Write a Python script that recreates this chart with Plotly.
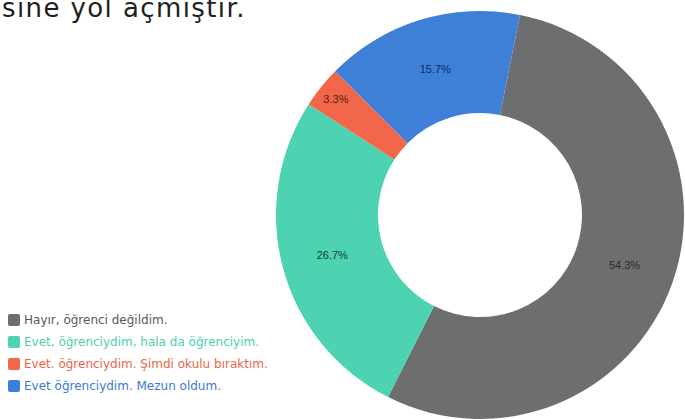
import plotly.graph_objects as go

# Survey answers and their shares (percent)
labels = [
    "Hayır, öğrenci değildim.",
    "Evet, öğrenciydim, hala da öğrenciyim.",
    "Evet. öğrenciydim. Şimdi okulu bıraktım.",
    "Evet öğrenciydim. Mezun oldum.",
]
values = [54.3, 26.7, 3.3, 15.7]
slice_colors = ["#6d6e70", "#4dd3b1", "#f2664a", "#3e80d8"]
label_text_colors = ["#2b2c2e", "#0f3f35", "#5c1a0e", "#10295a"]
legend_text_colors = ["#58595b", "#4ccfae", "#ef6449", "#3b79d4"]

title_tail = "sine yol açmıştır."

W, H = 685, 419

fig = go.Figure(
    go.Pie(
        labels=labels,
        values=values,
        hole=0.5,
        sort=False,
        direction="clockwise",
        rotation=11.3,
        marker=dict(colors=slice_colors, line=dict(width=0)),
        textinfo="percent",
        texttemplate="%{percent:.1%}",
        textposition="inside",
        insidetextorientation="horizontal",
        textfont=dict(size=11, color=label_text_colors,
                      family="Liberation Sans"),
        domain=dict(x=[276 / W, 684 / W], y=[0, 408 / H]),
        hoverinfo="label+value+percent",
        showlegend=False,
    )
)

fig.add_annotation(
    text=f'<span style="letter-spacing:1.4px">{title_tail}</span>',
    xref="paper", yref="paper",
    x=0.0, y=1 - 8 / H,
    xanchor="left", yanchor="middle",
    showarrow=False,
    font=dict(family="DejaVu Sans", size=26, color="#1e1e1e"),
)

# Legend: rounded swatch + coloured caption per answer, stacked bottom-left
key_left, key_size, key_radius = 8, 12, 2
row_top, row_step = 320, 22
for i, (name, col, txt_col) in enumerate(zip(labels, slice_colors, legend_text_colors)):
    cy = row_top + i * row_step
    x0, x1 = key_left, key_left + key_size
    y0, y1 = cy - key_size / 2, cy + key_size / 2
    r = key_radius
    # convert pixel corners to paper fractions (y measured from top)
    px = lambda v: v / W
    py = lambda v: 1 - v / H
    path = (
        f"M{px(x0 + r)},{py(y0)} L{px(x1 - r)},{py(y0)} "
        f"Q{px(x1)},{py(y0)} {px(x1)},{py(y0 + r)} "
        f"L{px(x1)},{py(y1 - r)} Q{px(x1)},{py(y1)} {px(x1 - r)},{py(y1)} "
        f"L{px(x0 + r)},{py(y1)} Q{px(x0)},{py(y1)} {px(x0)},{py(y1 - r)} "
        f"L{px(x0)},{py(y0 + r)} Q{px(x0)},{py(y0)} {px(x0 + r)},{py(y0)} Z"
    )
    fig.add_shape(type="path", path=path, xref="paper", yref="paper",
                  fillcolor=col, line=dict(width=0))
    fig.add_annotation(
        text=name,
        xref="paper", yref="paper",
        x=px(x1 + 2), y=py(cy),
        xanchor="left", yanchor="middle",
        showarrow=False,
        font=dict(family="DejaVu Sans", size=12, color=txt_col),
    )

fig.update_layout(
    width=W, height=H,
    margin=dict(l=0, r=0, t=0, b=0),
    paper_bgcolor="white",
    plot_bgcolor="white",
    font=dict(family="DejaVu Sans", color="#444"),
)

fig.write_html("out.html")
